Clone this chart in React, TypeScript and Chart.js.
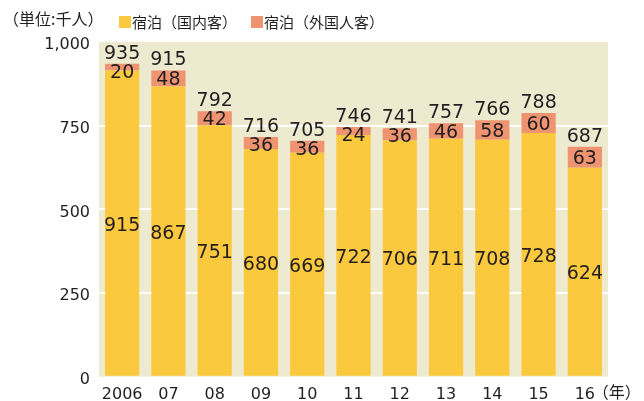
import React, { useEffect, useRef } from "react";
import { Chart, registerables } from "chart.js";

Chart.register(...registerables);

const years = ["2006", "07", "08", "09", "10", "11", "12", "13", "14", "15", "16"];
const domestic = [915, 867, 751, 680, 669, 722, 706, 711, 708, 728, 624];
const foreign = [20, 48, 42, 36, 36, 24, 36, 46, 58, 60, 63];
const totals = [935, 915, 792, 716, 705, 746, 741, 757, 766, 788, 687];
const seriesNames = ["宿泊（国内客）", "宿泊（外国人客）"];
const unitLabel = "（単位:千人）";
const yearUnit = "（年）";
const yTicks = [0, 250, 500, 750, 1000];

const YELLOW = "#FBC93E";
const ORANGE = "#EE9470";
const BEIGE = "#EEEACF";
const TEXT = "#231F20";
const NUM_FONT = "'DejaVu Sans', sans-serif";
const JP_FONT = "'Noto Sans CJK JP', sans-serif";

const decorPlugin = {
  id: "decor",
  beforeDraw(chart: any) {
    const { ctx, chartArea } = chart;
    ctx.save();
    ctx.fillStyle = BEIGE;
    ctx.fillRect(chartArea.left, chartArea.top, chartArea.right - chartArea.left, chartArea.bottom - chartArea.top);
    ctx.restore();
  },
  afterDraw(chart: any) {
    const { ctx } = chart;
    const yScale = chart.scales.y;
    const m0 = chart.getDatasetMeta(0);
    const m1 = chart.getDatasetMeta(1);
    ctx.save();
    ctx.fillStyle = TEXT;
    ctx.textAlign = "center";
    ctx.textBaseline = "alphabetic";
    const size = 19;
    ctx.font = `${size}px ${NUM_FONT}`;
    const capHalf = (0.73 * size) / 2;
    for (let i = 0; i < years.length; i++) {
      const b0 = m0.data[i];
      const b1 = m1.data[i];
      const x = b0.x;
      const dTop = b0.y;
      const dBottom = yScale.getPixelForValue(0);
      ctx.fillText(String(domestic[i]), x, (dTop + dBottom) / 2 + capHalf);
      const fTop = b1.y;
      const fBottom = b0.y;
      const fc = Math.max((fTop + fBottom) / 2, fTop + 7);
      ctx.fillText(String(foreign[i]), x, fc + capHalf);
      ctx.fillText(String(totals[i]), x, fTop - 5);
    }
    const colors = [YELLOW, ORANGE];
    const starts = [119, 251];
    ctx.textAlign = "left";
    ctx.textBaseline = "middle";
    ctx.font = `15px ${JP_FONT}`;
    for (let k = 0; k < 2; k++) {
      ctx.fillStyle = colors[k];
      ctx.fillRect(starts[k], 16, 12, 12);
      ctx.fillStyle = TEXT;
      ctx.fillText(seriesNames[k], starts[k] + 13, 22);
    }
    ctx.font = `16px ${JP_FONT}`;
    ctx.fillText(unitLabel, 3, 19);
    ctx.font = `16px ${JP_FONT}`;
    const xs = chart.scales.x;
    ctx.fillText(yearUnit, xs.getPixelForValue(years.length - 1) + 8, 392);
    ctx.restore();
  },
};

export default function App() {
  const ref = useRef<HTMLCanvasElement | null>(null);
  useEffect(() => {
    if (!ref.current) return;
    const chart = new Chart(ref.current, {
      type: "bar",
      data: {
        labels: years,
        datasets: [
          { label: seriesNames[0], data: domestic, backgroundColor: YELLOW, barPercentage: 0.74, categoryPercentage: 1, borderWidth: 0 },
          { label: seriesNames[1], data: foreign, backgroundColor: ORANGE, barPercentage: 0.74, categoryPercentage: 1, borderWidth: 0 },
        ],
      },
      options: {
        animation: false,
        responsive: false,
        maintainAspectRatio: false,
        layout: { padding: { top: 42, right: 36, left: 0, bottom: 0 } },
        plugins: { legend: { display: false }, tooltip: { enabled: false } },
        scales: {
          x: {
            stacked: true,
            grid: { display: false },
            border: { display: false },
            ticks: { color: TEXT, font: { family: NUM_FONT, size: 16 }, padding: 1, maxRotation: 0, autoSkip: false },
            afterFit: (s: any) => { s.height = 24.3; },
          },
          y: {
            stacked: true,
            min: 0,
            max: 1000,
            afterBuildTicks: (s: any) => { s.ticks = yTicks.map((v) => ({ value: v })); },
            ticks: {
              color: TEXT,
              font: { family: NUM_FONT, size: 16 },
              padding: 9,
              labelOffset: 3,
              callback: (v: any) => Number(v).toLocaleString("en-US"),
            },
            grid: {
              color: (c: any) => (c.tick && (c.tick.value === 0 || c.tick.value === 1000) ? "rgba(0,0,0,0)" : "#FFFFFF"),
              lineWidth: 2,
              drawTicks: false,
            },
            border: { display: false },
            afterFit: (s: any) => { s.width = 99; },
          },
        },
      },
      plugins: [decorPlugin],
    });
    return () => chart.destroy();
  }, []);
  return (
    <div style={{ position: "fixed", left: 0, top: 0, width: 644, height: 401, background: "#fff" }}>
      <canvas ref={ref} width={644} height={401} style={{ width: 644, height: 401 }} />
    </div>
  );
}
